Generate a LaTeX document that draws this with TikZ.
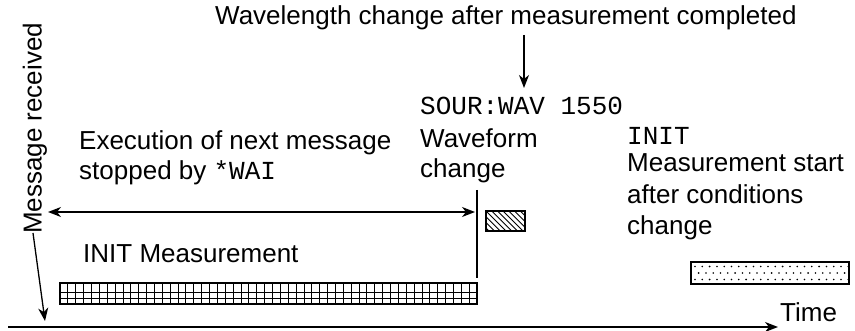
\documentclass[tikz,border=0pt]{standalone}
\usepackage{fontspec}
\setmainfont{Liberation Sans}
\setmonofont{Liberation Mono}
\usetikzlibrary{arrows.meta}
\begin{document}
\begin{tikzpicture}[x=1pt,y=-1pt,
  font=\fontsize{26}{31}\selectfont,
  lbl/.style={anchor=base west, inner sep=0},
  arr/.style={-{Stealth[length=13pt,width=10pt,inset=4pt]}, line width=1.5pt},
  darr/.style={{Stealth[length=13pt,width=10pt,inset=4pt]}-{Stealth[length=13pt,width=10pt,inset=4pt]}, line width=1.5pt},
  boxline/.style={line width=2pt},
  fine/.style={line width=0.9pt}]
\useasboundingbox (0,0) rectangle (855,331);

% texts
\node[anchor=base west, inner sep=0] (top) at (215,25) {Wavelength change after measurement completed};
\node[lbl] (sour) at (420,115) {\ttfamily SOUR:WAV 1550};
\node[lbl] (wave1) at (420,148) {Waveform};
\node[lbl] (wave2) at (420,178) {change};
\node[lbl] (exec1) at (79,150) {Execution of next message};
\node[lbl] (exec2) at (79,180) {stopped by \texttt{*WAI}};
\node[lbl] (init) at (627,145) {\ttfamily INIT};
\node[lbl] (meas1) at (627,172) {Measurement start};
\node[lbl] (meas2) at (627,204) {after conditions};
\node[lbl] (meas3) at (627,235) {change};
\node[lbl] (initm) at (83,263) {INIT Measurement};
\node[lbl] (time) at (780,322) {Time};
\node[rotate=90, inner sep=0] (msg) at (35,128.5) {Message received};

% time axis
\coordinate (ax0) at (8,327);
\coordinate (ax1) at (778,327);
\draw[arr] (ax0) -- (ax1);

% message received arrow
\coordinate (m0) at (33,233);
\coordinate (m1) at (45,321);
\draw[arr, line width=1.3pt] (m0) -- (m1);

% top arrow
\coordinate (t0) at (524,35);
\coordinate (t1) at (524,88);
\draw[arr, line width=1.3pt] (t0) -- (t1);

% wait span
\coordinate (w0) at (48,212);
\coordinate (w1) at (475,212);
\draw[darr] (w0) -- (w1);
\coordinate (v0) at (477,190);
\coordinate (v1) at (477,278);
\draw[line width=1.5pt] (v0) -- (v1);

% grid box (INIT measurement)
\coordinate (g0) at (60,283);
\coordinate (g1) at (477,304);
\begin{scope}
\clip (g0) rectangle (g1);
\foreach \i in {1,...,53} {\draw[fine] ({60+\i*7.87},283) -- ({60+\i*7.87},304);}
\draw[fine] (60,292) -- (477,292);
\draw[fine] (60,298.5) -- (477,298.5);
\end{scope}
\draw[boxline] (g0) rectangle (g1);

% hatched box (waveform change)
\coordinate (h0) at (486,211);
\coordinate (h1) at (525,231);
\begin{scope}
\clip (h0) rectangle (h1);
\foreach \i in {-4,...,10} {\draw[fine] ({486+\i*5.7},211) -- ({486+\i*5.7+20},231);}
\end{scope}
\draw[boxline] (h0) rectangle (h1);

% dotted box (measurement after change)
\coordinate (d0) at (691,262);
\coordinate (d1) at (849,284);
\begin{scope}
\clip (d0) rectangle (d1);
\foreach \i in {0,...,22} {
  \fill ({695+\i*7.3},266.5) circle (0.9);
  \fill ({698.6+\i*7.3},273) circle (0.9);
  \fill ({695+\i*7.3},279.5) circle (0.9);
}
\end{scope}
\draw[boxline] (d0) rectangle (d1);
\end{tikzpicture}
\end{document}
